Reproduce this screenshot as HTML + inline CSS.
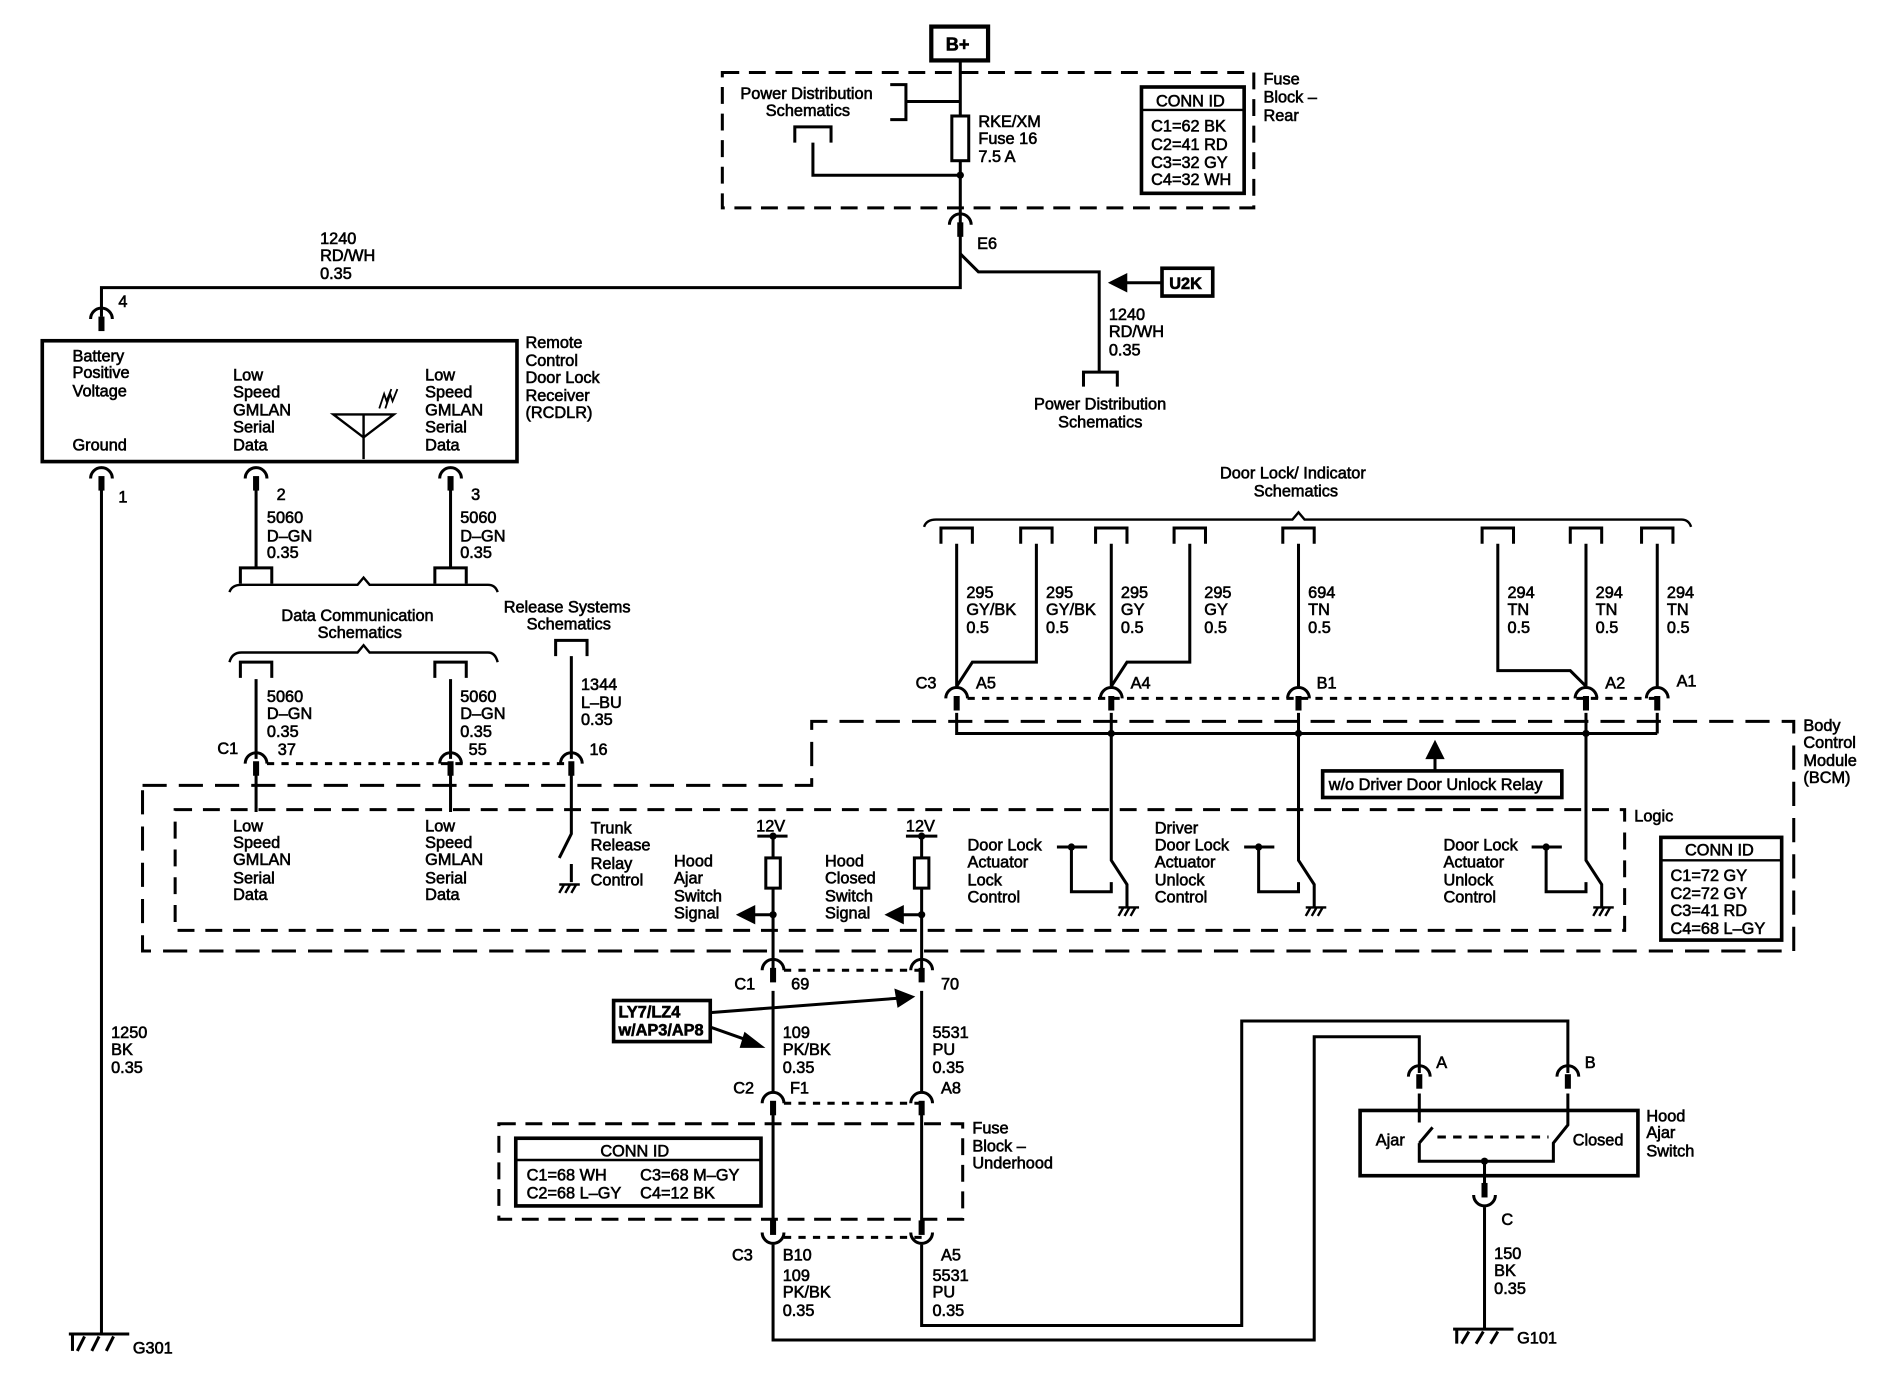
<!DOCTYPE html>
<html><head><style>html,body{margin:0;padding:0;background:#fff}svg{display:block}
text{font-family:"Liberation Sans",Arial,sans-serif;font-size:13.5px;fill:#000;stroke:#000;stroke-width:0.5}
</style></head><body>
<svg width="1894" height="1392" viewBox="0 0 1568 1152" preserveAspectRatio="none" xmlns="http://www.w3.org/2000/svg">
<defs>
<g id="cn"><path d="M-9,6 A9,9 0 0 1 9,6" fill="none" stroke="#000" stroke-width="2.5"/><rect x="-2.5" y="4" width="5" height="12" fill="#000"/></g>
<g id="cu"><path d="M-9,-6 A9,9 0 0 0 9,-6" fill="none" stroke="#000" stroke-width="2.5"/><rect x="-2.5" y="-16" width="5" height="12" fill="#000"/></g>
<g id="br"><path d="M-13,13 L-13,0 L13,0 L13,13" fill="none" stroke="#000" stroke-width="2.5"/></g>
<g id="gnd"><path d="M-7,0 H10 M-3,0 L-7,7 M2,0 L-2,7 M7,0 L3,7" stroke="#000" stroke-width="2" fill="none"/></g>
<g id="sw"><path d="M0,0 V112 L13,132 V151 M-45,101 H-20 M-33,101 V138 H0 V130" fill="none" stroke="#000" stroke-width="2.5"/><circle cx="-33" cy="101" r="3" fill="#000"/></g>
</defs>
<g fill="none" stroke="#000" stroke-width="2.5">
<rect x="771" y="22" width="47" height="28" stroke-width="3.5"/>
<rect x="598" y="60" width="440" height="112" stroke-dasharray="14,8"/>
<path d="M795,50 V190 M795,190 V238 H84 V262"/>
<path d="M737,70 H750 V99 H737 M750,84 H795"/>
<path d="M658,118 V105 H688 V118 M673,118 V145 H795"/>
<rect x="788" y="96" width="14" height="37" fill="#fff"/>
<rect x="945" y="72" width="85" height="88" stroke-width="3"/><path d="M945,91 H1030" stroke-width="2"/>
<path d="M795,210 L810,225 H910 V308"/>
<path d="M962,234 H930"/><path d="M920,234 L932,228 L932,240 Z" fill="#000"/>
<rect x="962" y="222" width="42" height="23" stroke-width="3"/>
<path d="M897,320 V308 H925 V320"/>
<rect x="35" y="282" width="393" height="100" stroke-width="3"/>
<path d="M276,343 H326 L301,362 Z M301,343 V380" stroke-width="2"/>
<path d="M314,338 L318,326 L320,332 L324,322 M319,338 L323,326 L325,332 L329,322" stroke-width="1.5"/>
<path d="M84,395 V1104"/>
<path d="M212,395 V470 M373,395 V470"/>
<path d="M190,490 Q192,484 200,484 H296 L301,478 L306,484 H404 Q410,484 412,490" stroke-width="2"/>
<path d="M190,548 Q192,540 200,540 H296 L301,534 L306,540 H404 Q410,540 412,548" stroke-width="2"/>
<path d="M212,562 V628 M373,562 V628 M473,543 V628"/>
<path d="M221,632 H473" stroke-dasharray="6,6"/>
<path d="M118,650 H672 V597 H1485 V787 H118 Z" stroke-dasharray="20,10"/>
<path d="M145,670 H1345 V770 H145 Z" stroke-dasharray="14,9"/>
<rect x="1375" y="693" width="100" height="85" stroke-width="3"/><path d="M1375,712 H1475" stroke-width="2"/>
<path d="M212,640 V672 M373,640 V672"/>
<path d="M473,640 V690 L463,710 M473,715 V730"/>
<path d="M627,692 H652 M640,692 V807 M750,692 H776 M763,692 V807"/>
<rect x="634" y="710" width="12" height="25" fill="#fff"/><rect x="757" y="710" width="12" height="25" fill="#fff"/>
<path d="M640,757 H620 M763,757 H743"/>
<path d="M612,757 L624,751 L624,763 Z M735,757 L747,751 L747,763 Z" fill="#000"/>
<path d="M649,803 H763" stroke-dasharray="6,6"/>
<rect x="508" y="828" width="80" height="34" stroke-width="3"/>
<path d="M588,838 L745,826 M588,850 L622,862"/>
<path d="M755,825 L742,820 L744,832 Z M630,866 L617,856 L614,866 Z" fill="#000"/>
<path d="M640,820 V905 M763,820 V905"/>
<path d="M649,913 H763" stroke-dasharray="6,6"/>
<path d="M640,920 V1012 M763,920 V1012"/>
<path d="M649,1024 H763" stroke-dasharray="6,6"/>
<rect x="413" y="930" width="384" height="79" stroke-dasharray="14,8"/>
<rect x="427" y="942" width="203" height="56" stroke-width="3"/><path d="M427,960 H630" stroke-width="2"/>
<path d="M640,1030 V1109 H1088 V858 H1175 V888 M763,1030 V1097 H1028 V845 H1298 V888"/>
<rect x="1126" y="919" width="230" height="54" stroke-width="3"/>
<path d="M1175,905 V929 M1175,946 L1186,933 M1175,946 V961 H1286 V946 L1298,931 V905"/>
<path d="M1190,941 H1282" stroke-dasharray="7,6"/>
<path d="M1229,961 V982 M1229,999 V1100"/>
<path d="M765,436 Q767,430 775,430 H1070 L1075,424 L1080,430 H1392 Q1398,430 1400,436" stroke-width="2"/>
<path d="M792,450 V568 M858,450 V548 H805 L792,568 M920,450 V568 M985,450 V548 H933 L920,568 M1075,450 V568 M1240,450 V555 H1300 L1313,568 M1313,450 V568 M1372,450 V568"/>
<path d="M801,578 H1372" stroke-dasharray="6,6"/>
<path d="M792,590 V607 H1372 M1372,590 V607 M920,590 V600 M1075,590 V600 M1313,590 V600 M1188,638 V622"/>
<path d="M1188,615 L1182,627 L1194,627 Z" fill="#000"/>
<rect x="1095" y="638" width="198" height="22" stroke-width="3"/>
</g>
<use href="#sw" x="920" y="600"/><use href="#sw" x="1075" y="600"/><use href="#sw" x="1313" y="600"/>
<use href="#gnd" x="933" y="751"/><use href="#gnd" x="1088" y="751"/><use href="#gnd" x="1326" y="751"/>
<g fill="#000">
<circle cx="795" cy="145" r="3"/><circle cx="920" cy="607" r="3"/><circle cx="1075" cy="607" r="3"/><circle cx="1313" cy="607" r="3"/>
<circle cx="640" cy="692" r="3"/><circle cx="763" cy="692" r="3"/><circle cx="640" cy="757" r="3"/><circle cx="763" cy="757" r="3"/>
<circle cx="1229" cy="961" r="3"/>
</g>
<use href="#cn" x="795" y="180"/><use href="#cn" x="84" y="258"/><use href="#cn" x="84" y="390"/><use href="#cn" x="212" y="390"/><use href="#cn" x="373" y="390"/>
<use href="#cn" x="212" y="626"/><use href="#cn" x="373" y="626"/><use href="#cn" x="473" y="626"/>
<use href="#cn" x="792" y="572"/><use href="#cn" x="920" y="572"/><use href="#cn" x="1075" y="572"/><use href="#cn" x="1313" y="572"/><use href="#cn" x="1372" y="572"/>
<use href="#cn" x="640" y="797"/><use href="#cn" x="763" y="797"/><use href="#cn" x="640" y="907"/><use href="#cn" x="763" y="907"/>
<use href="#cu" x="640" y="1026"/><use href="#cu" x="763" y="1026"/>
<use href="#cn" x="1175" y="885"/><use href="#cn" x="1298" y="885"/><use href="#cu" x="1229" y="995"/>
<use href="#br" x="212" y="470"/><use href="#br" x="373" y="470"/><use href="#br" x="212" y="548"/><use href="#br" x="373" y="548"/><use href="#br" x="473" y="530"/>
<use href="#br" x="792" y="437"/><use href="#br" x="858" y="437"/><use href="#br" x="920" y="437"/><use href="#br" x="985" y="437"/><use href="#br" x="1075" y="437"/><use href="#br" x="1240" y="437"/><use href="#br" x="1313" y="437"/><use href="#br" x="1372" y="437"/>
<use href="#gnd" x="470" y="732"/>
<path d="M57,1104 H107 M60,1104 V1118 M64,1118 L70,1106 M76,1118 L82,1106 M88,1118 L94,1106" stroke="#000" stroke-width="2.5" fill="none"/>
<path d="M1203,1100 H1253 M1206,1100 V1112 M1210,1112 L1216,1102 M1222,1112 L1228,1102 M1234,1112 L1240,1102" stroke="#000" stroke-width="2.5" fill="none"/>
<g>
<text x="783" y="42" style="font-size:15px;font-weight:bold">B+</text>
<text x="613" y="82">Power Distribution</text><text x="634" y="96">Schematics</text>
<text x="810" y="105">RKE/XM</text><text x="810" y="119">Fuse 16</text><text x="810" y="134">7.5 A</text>
<text x="957" y="88">CONN ID</text><text x="953" y="109">C1=62 BK</text><text x="953" y="124">C2=41 RD</text><text x="953" y="139">C3=32 GY</text><text x="953" y="153">C4=32 WH</text>
<text x="1046" y="70">Fuse</text><text x="1046" y="85">Block –</text><text x="1046" y="100">Rear</text>
<text x="809" y="206">E6</text>
<text x="265" y="202">1240</text><text x="265" y="216">RD/WH</text><text x="265" y="231">0.35</text>
<text x="968" y="239" style="font-weight:bold">U2K</text>
<text x="918" y="265">1240</text><text x="918" y="279">RD/WH</text><text x="918" y="294">0.35</text>
<text x="856" y="339">Power Distribution</text><text x="876" y="354">Schematics</text>
<text x="98" y="254">4</text>
<text x="60" y="299">Battery</text><text x="60" y="313">Positive</text><text x="60" y="328">Voltage</text><text x="60" y="373">Ground</text>
<text x="193" y="315">Low</text><text x="193" y="329">Speed</text><text x="193" y="344">GMLAN</text><text x="193" y="358">Serial</text><text x="193" y="373">Data</text>
<text x="352" y="315">Low</text><text x="352" y="329">Speed</text><text x="352" y="344">GMLAN</text><text x="352" y="358">Serial</text><text x="352" y="373">Data</text>
<text x="435" y="288">Remote</text><text x="435" y="303">Control</text><text x="435" y="317">Door Lock</text><text x="435" y="332">Receiver</text><text x="435" y="346">(RCDLR)</text>
<text x="98" y="416">1</text><text x="229" y="414">2</text><text x="390" y="414">3</text>
<text x="221" y="433">5060</text><text x="221" y="448">D–GN</text><text x="221" y="462">0.35</text>
<text x="381" y="433">5060</text><text x="381" y="448">D–GN</text><text x="381" y="462">0.35</text>
<text x="233" y="514">Data Communication</text><text x="263" y="528">Schematics</text>
<text x="417" y="507">Release Systems</text><text x="436" y="521">Schematics</text>
<text x="221" y="581">5060</text><text x="221" y="595">D–GN</text><text x="221" y="610">0.35</text>
<text x="381" y="581">5060</text><text x="381" y="595">D–GN</text><text x="381" y="610">0.35</text>
<text x="481" y="571">1344</text><text x="481" y="586">L–BU</text><text x="481" y="600">0.35</text>
<text x="180" y="624">C1</text><text x="230" y="625">37</text><text x="388" y="625">55</text><text x="488" y="625">16</text>
<text x="193" y="688">Low</text><text x="193" y="702">Speed</text><text x="193" y="716">GMLAN</text><text x="193" y="731">Serial</text><text x="193" y="745">Data</text>
<text x="352" y="688">Low</text><text x="352" y="702">Speed</text><text x="352" y="716">GMLAN</text><text x="352" y="731">Serial</text><text x="352" y="745">Data</text>
<text x="489" y="690">Trunk</text><text x="489" y="704">Release</text><text x="489" y="719">Relay</text><text x="489" y="733">Control</text>
<text x="558" y="717">Hood</text><text x="558" y="731">Ajar</text><text x="558" y="746">Switch</text><text x="558" y="760">Signal</text>
<text x="683" y="717">Hood</text><text x="683" y="731">Closed</text><text x="683" y="746">Switch</text><text x="683" y="760">Signal</text>
<text x="626" y="688">12V</text><text x="750" y="688">12V</text>
<text x="801" y="704">Door Lock</text><text x="801" y="718">Actuator</text><text x="801" y="733">Lock</text><text x="801" y="747">Control</text>
<text x="956" y="690">Driver</text><text x="956" y="704">Door Lock</text><text x="956" y="718">Actuator</text><text x="956" y="733">Unlock</text><text x="956" y="747">Control</text>
<text x="1195" y="704">Door Lock</text><text x="1195" y="718">Actuator</text><text x="1195" y="733">Unlock</text><text x="1195" y="747">Control</text>
<text x="1100" y="654">w/o Driver Door Unlock Relay</text>
<text x="1353" y="680">Logic</text>
<text x="1493" y="605">Body</text><text x="1493" y="619">Control</text><text x="1493" y="634">Module</text><text x="1493" y="648">(BCM)</text>
<text x="1395" y="708">CONN ID</text><text x="1383" y="729">C1=72 GY</text><text x="1383" y="744">C2=72 GY</text><text x="1383" y="758">C3=41 RD</text><text x="1383" y="773">C4=68 L–GY</text>
<text x="1010" y="396">Door Lock/ Indicator</text><text x="1038" y="411">Schematics</text>
<text x="800" y="495">295</text><text x="800" y="509">GY/BK</text><text x="800" y="524">0.5</text>
<text x="866" y="495">295</text><text x="866" y="509">GY/BK</text><text x="866" y="524">0.5</text>
<text x="928" y="495">295</text><text x="928" y="509">GY</text><text x="928" y="524">0.5</text>
<text x="997" y="495">295</text><text x="997" y="509">GY</text><text x="997" y="524">0.5</text>
<text x="1083" y="495">694</text><text x="1083" y="509">TN</text><text x="1083" y="524">0.5</text>
<text x="1248" y="495">294</text><text x="1248" y="509">TN</text><text x="1248" y="524">0.5</text>
<text x="1321" y="495">294</text><text x="1321" y="509">TN</text><text x="1321" y="524">0.5</text>
<text x="1380" y="495">294</text><text x="1380" y="509">TN</text><text x="1380" y="524">0.5</text>
<text x="758" y="570">C3</text><text x="808" y="570">A5</text><text x="936" y="570">A4</text><text x="1090" y="570">B1</text><text x="1329" y="570">A2</text><text x="1388" y="568">A1</text>
<text x="608" y="819">C1</text><text x="655" y="819">69</text><text x="779" y="819">70</text>
<text x="512" y="842" style="font-weight:bold">LY7/LZ4</text><text x="512" y="857" style="font-weight:bold">w/AP3/AP8</text>
<text x="648" y="859">109</text><text x="648" y="873">PK/BK</text><text x="648" y="888">0.35</text>
<text x="772" y="859">5531</text><text x="772" y="873">PU</text><text x="772" y="888">0.35</text>
<text x="92" y="859">1250</text><text x="92" y="873">BK</text><text x="92" y="888">0.35</text>
<text x="607" y="905">C2</text><text x="654" y="905">F1</text><text x="779" y="905">A8</text>
<text x="805" y="938">Fuse</text><text x="805" y="953">Block –</text><text x="805" y="967">Underhood</text>
<text x="497" y="957">CONN ID</text><text x="436" y="977">C1=68 WH</text><text x="530" y="977">C3=68 M–GY</text><text x="436" y="992">C2=68 L–GY</text><text x="530" y="992">C4=12 BK</text>
<text x="606" y="1043">C3</text><text x="648" y="1043">B10</text><text x="779" y="1043">A5</text>
<text x="648" y="1060">109</text><text x="648" y="1074">PK/BK</text><text x="648" y="1089">0.35</text>
<text x="772" y="1060">5531</text><text x="772" y="1074">PU</text><text x="772" y="1089">0.35</text>
<text x="110" y="1120">G301</text>
<text x="1189" y="884">A</text><text x="1312" y="884">B</text>
<text x="1139" y="948">Ajar</text><text x="1302" y="948">Closed</text>
<text x="1363" y="928">Hood</text><text x="1363" y="942">Ajar</text><text x="1363" y="957">Switch</text>
<text x="1243" y="1014">C</text>
<text x="1237" y="1042">150</text><text x="1237" y="1056">BK</text><text x="1237" y="1071">0.35</text>
<text x="1256" y="1112">G101</text>
</g>
</svg>
</body></html>
